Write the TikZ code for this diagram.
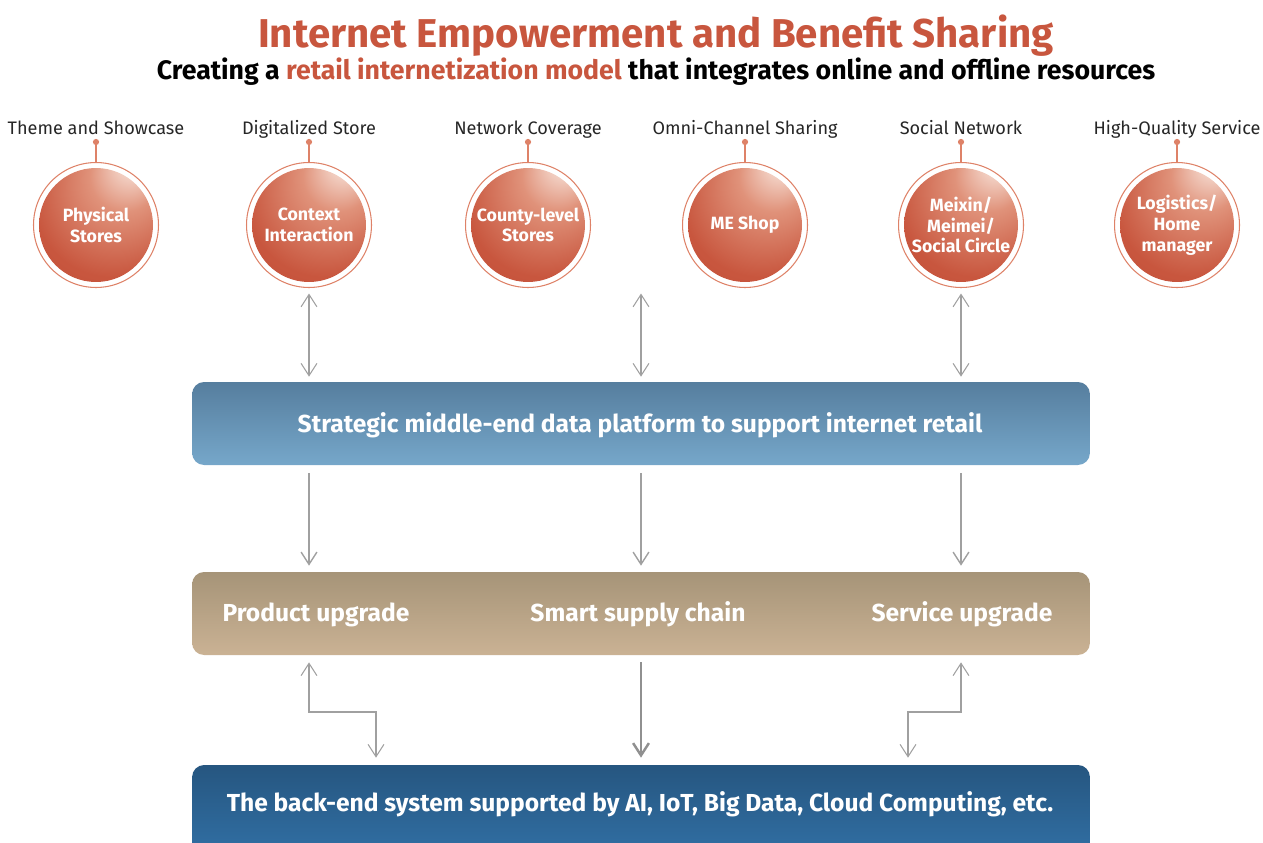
\documentclass[tikz,border=0pt]{standalone}
\usepackage{fontspec}
\setmainfont{Fira Sans}
\usepackage{xcolor}
\usepackage{tikz}
\usetikzlibrary{arrows.meta}

\definecolor{rust}{RGB}{200,86,62}
\definecolor{rustlight}{RGB}{224,146,122}
\definecolor{rustglow}{RGB}{246,222,212}
\definecolor{rustdark}{RGB}{190,77,54}
\definecolor{ringline}{RGB}{222,130,104}
\definecolor{arrowgray}{RGB}{160,160,160}
\definecolor{labelgray}{RGB}{38,38,38}
\definecolor{platformtop}{RGB}{86,126,158}
\definecolor{platformbottom}{RGB}{118,167,202}
\definecolor{tantop}{RGB}{166,148,120}
\definecolor{tanbottom}{RGB}{202,178,148}
\definecolor{backtop}{RGB}{38,86,128}
\definecolor{backbottom}{RGB}{50,114,168}

\pgfdeclareradialshading{orb}{\pgfpoint{16bp}{27bp}}{color(0bp)=(white); color(3bp)=(rustglow); color(14bp)=(rustlight); color(31bp)=(rust); color(50bp)=(rustdark)}

\begin{document}
\begin{tikzpicture}[x=0.02cm, y=-0.02cm,
	every node/.style={align=center, text=white, font=\bfseries},
	orb/.style={circle, draw=ringline, line width=0.6pt, minimum size=2.5cm, inner sep=0pt, font=\bfseries\fontsize{10.1}{11.8}\selectfont,
		path picture={\shade[shading=orb] (path picture bounding box.center) circle[radius=1.14cm];}},
	topic/.style={anchor=base, text=labelgray, font=\fontsize{10.3}{12}\selectfont},
	stem/.style={draw=ringline, fill=ringline, line width=0.9pt},
	bar/.style={rounded corners=0.24cm, minimum width=17.96cm, minimum height=1.66cm, inner sep=0pt},
	bartext/.style={anchor=base, font=\bfseries\fontsize{14}{16}\selectfont},
	link/.style={draw=arrowgray, line width=0.6pt, {Straight Barb[length=7pt,width=9pt]}-{Straight Barb[length=7pt,width=9pt]}},
	down/.style={draw=arrowgray, line width=0.8pt, -{Straight Barb[length=7pt,width=9pt]}},
]
	\useasboundingbox (0,0) rectangle (1263,842);
	\clip (0,0) rectangle (1263,842);

	\node (title) at (656,47) [anchor=base, text=rust, font=\bfseries\fontsize{22.9}{26}\selectfont] {Internet Empowerment and Benefit Sharing};
	\node (subtitle) at (656,79) [anchor=base, text=black, font=\bfseries\fontsize{15.2}{17}\selectfont] {Creating a \textcolor{rust}{retail internetization model} that integrates online and offline resources};

	\node (showcase) at (96,134) [topic] {Theme and Showcase};
	\node (digital) at (309,134) [topic] {Digitalized Store};
	\node (coverage) at (528,134) [topic] {Network Coverage};
	\node (omni) at (745,134) [topic] {Omni-Channel Sharing};
	\node (network) at (961,134) [topic] {Social Network};
	\node (quality) at (1177,134) [topic] {High-Quality Service};

	\node (phys) at (96,225) [orb] {Physical\\Stores};
	\node (ctx) at (309,225) [orb] {Context\\Interaction};
	\node (county) at (528,225) [orb] {County-level\\Stores};
	\node (meshop) at (745,225) [orb] {ME Shop};
	\node (social) at (961,225) [orb] {Meixin/\\Meimei/\\Social Circle};
	\node (logis) at (1177,225) [orb] {Logistics/\\Home\\manager};

	\filldraw[stem] (phys.north) -- ++(0,-20) circle[radius=0.045cm];
	\filldraw[stem] (ctx.north) -- ++(0,-20) circle[radius=0.045cm];
	\filldraw[stem] (county.north) -- ++(0,-20) circle[radius=0.045cm];
	\filldraw[stem] (meshop.north) -- ++(0,-20) circle[radius=0.045cm];
	\filldraw[stem] (social.north) -- ++(0,-20) circle[radius=0.045cm];
	\filldraw[stem] (logis.north) -- ++(0,-20) circle[radius=0.045cm];

	\node (platform) at (641,423.5) [bar, top color=platformtop, bottom color=platformbottom] {};
	\node (platformtext) at (640,432) [bartext] {Strategic middle-end data platform to support internet retail};

	\node (tanbar) at (641,613.5) [bar, top color=tantop, bottom color=tanbottom] {};
	\node (produp) at (316,621.5) [bartext] {Product upgrade};
	\node (supply) at (638,621.5) [bartext] {Smart supply chain};
	\node (servup) at (962,621.5) [bartext] {Service upgrade};

	\node (backend) at (641,815) [bar, minimum height=2cm, top color=backtop, bottom color=backbottom] {};
	\node (backendtext) at (640,811) [bartext] {The back-end system supported by AI, IoT, Big Data, Cloud Computing, etc.};

	\coordinate (kneeL) at (376,712);
	\coordinate (kneeR) at (908,712);

	\draw[link, shorten <=0.11cm, shorten >=0.1cm] (ctx.south) -- (ctx.south |- platform.north);
	\draw[link, shorten <=0.11cm, shorten >=0.1cm] (platform.north |- ctx.south) -- (platform.north);
	\draw[link, shorten <=0.11cm, shorten >=0.1cm] (social.south) -- (social.south |- platform.north);

	\draw[down, shorten <=0.15cm, shorten >=0.12cm] (platform.south -| ctx) -- (tanbar.north -| ctx);
	\draw[down, shorten <=0.15cm, shorten >=0.12cm] (platform.south) -- (tanbar.north);
	\draw[down, shorten <=0.15cm, shorten >=0.12cm] (platform.south -| social) -- (tanbar.north -| social);

	\draw[link, shorten <=0.14cm, shorten >=0.14cm] (tanbar.south -| ctx) |- (kneeL) -- (kneeL |- backend.north);
	\draw[down, line width=1.4pt, draw=arrowgray!90!black, shorten <=0.14cm, shorten >=0.14cm] (tanbar.south) -- (backend.north);
	\draw[link, shorten <=0.14cm, shorten >=0.14cm] (tanbar.south -| social) |- (kneeR) -- (kneeR |- backend.north);
\end{tikzpicture}
\end{document}
